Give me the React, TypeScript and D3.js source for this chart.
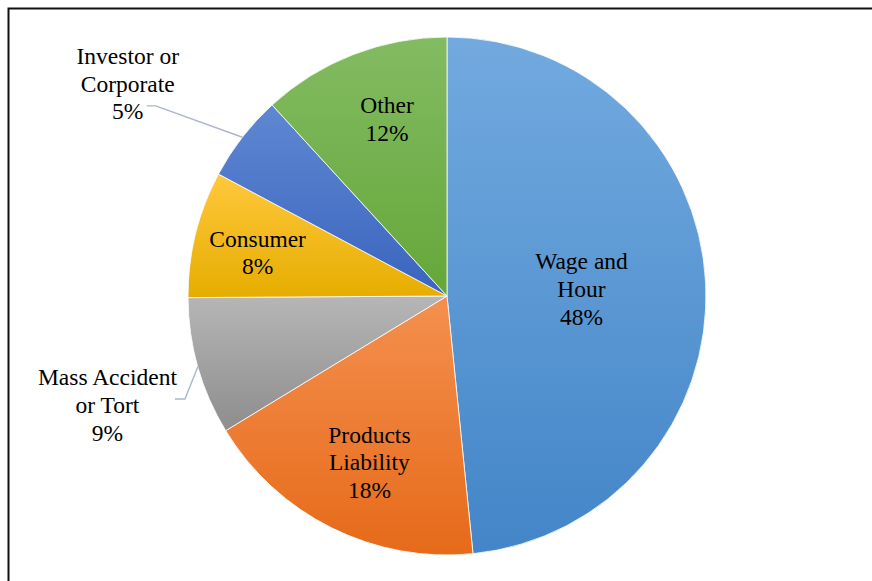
import { useEffect, useRef } from 'react'
import * as d3 from 'd3'

// Case categories (clockwise from 12 o'clock) and their shares in percent
const categories = ['Wage and Hour', 'Products Liability', 'Mass Accident or Tort', 'Consumer', 'Investor or Corporate', 'Other']
const labelLines = [
  ['Wage and', 'Hour'],
  ['Products', 'Liability'],
  ['Mass Accident', 'or Tort'],
  ['Consumer'],
  ['Investor or', 'Corporate'],
  ['Other'],
]
const shares = [48.4, 17.9, 8.6, 7.9, 5.4, 11.8]

// Office-like gradient fills: [top, bottom]
const palette: [string, string][] = [
  ['#72aadf', '#4385c8'],
  ['#f4904f', '#e66a19'],
  ['#b6b6b6', '#8d8d8d'],
  ['#ffc83c', '#e6ad00'],
  ['#5f88d2', '#3a64be'],
  ['#83bb62', '#65a739'],
]

const W = 872
const H = 581
const cx = 447
const cy = 296
const R = 259
const fontSize = 23.5
const lineH = 27.8
const serif = "'Liberation Serif', 'Times New Roman', Times, 'DejaVu Serif', serif"

// label placement: inside = centroid at fraction of radius; outside = polar text centre + leader offsets
type Place =
  | { kind: 'in'; r: number; da?: number }
  | { kind: 'out'; r: number; angle: number; lead: [number, number, number] }

const placement: Place[] = [
  { kind: 'in', r: 0.52 },
  { kind: 'in', r: 0.71, da: -1.5 },
  { kind: 'out', r: 1.377, angle: 252.2, lead: [67.5, 77.5, -6] },
  { kind: 'in', r: 0.75, da: -1 },
  { kind: 'out', r: 1.48, angle: 303.6, lead: [19, 28, 22] },
  { kind: 'in', r: 0.72, da: 2.5 },
]

export default function App() {
  const svgRef = useRef<SVGSVGElement>(null)

  useEffect(() => {
    if (!svgRef.current) return
    const svg = d3.select(svgRef.current)
    svg.selectAll('*').remove()

    const defs = svg.append('defs')
    palette.forEach(([top, bottom], i) => {
      const grad = defs
        .append('linearGradient')
        .attr('id', `slice-grad-${i}`)
        .attr('x1', '0%')
        .attr('y1', '0%')
        .attr('x2', '0%')
        .attr('y2', '100%')
      grad.append('stop').attr('offset', '0%').attr('stop-color', top)
      grad.append('stop').attr('offset', '100%').attr('stop-color', bottom)
    })

    // outer frame (only top/left edges fall inside the picture)
    svg
      .append('rect')
      .attr('x', 8.5)
      .attr('y', 8.5)
      .attr('width', 1000)
      .attr('height', 1000)
      .attr('fill', 'none')
      .attr('stroke', '#111')
      .attr('stroke-width', 2)

    const pie = d3
      .pie<number>()
      .sort(null)
      .value(d => d)
      .startAngle(0)
      .endAngle(2 * Math.PI)
    const arcs = pie(shares)

    const arc = d3.arc<d3.PieArcDatum<number>>().innerRadius(0).outerRadius(R)

    const g = svg.append('g').attr('transform', `translate(${cx},${cy})`)

    g.selectAll('path.slice')
      .data(arcs)
      .join('path')
      .attr('class', 'slice')
      .attr('d', arc)
      .attr('fill', (_, i) => `url(#slice-grad-${i})`)
      .attr('stroke', '#fff')
      .attr('stroke-width', 0.8)

    const total = d3.sum(shares)
    const polar = (deg: number, r: number): [number, number] => {
      const a = (deg * Math.PI) / 180
      return [r * Math.sin(a), -r * Math.cos(a)]
    }

    arcs.forEach((d, i) => {
      const p = placement[i]
      const mid = (((d.startAngle + d.endAngle) / 2) * 180) / Math.PI
      const lines = [...labelLines[i], `${Math.round((shares[i] / total) * 100)}%`]
      let tx: number
      let ty: number
      if (p.kind === 'in') {
        ;[tx, ty] = polar(mid + (p.da ?? 0), p.r * R)
      } else {
        ;[tx, ty] = polar(p.angle, p.r * R)
        const [ax, ay] = polar(mid, R)
        const [sx, ex, oy] = p.lead
        const pts: [number, number][] = [
          [tx + sx, ty + oy],
          [tx + ex, ty + oy],
          [ax, ay],
        ]
        g.append('path')
          .attr('d', d3.line()(pts))
          .attr('fill', 'none')
          .attr('stroke', '#a9b6cb')
          .attr('stroke-width', 1.4)
      }
      const text = g
        .append('text')
        .attr('text-anchor', 'middle')
        .style('font-family', serif)
        .style('font-size', `${fontSize}px`)
        .attr('fill', '#000')
      const firstBase = ty - ((lines.length - 1) * lineH) / 2 + fontSize * 0.33
      lines.forEach((ln, k) => {
        text
          .append('tspan')
          .attr('x', tx)
          .attr('y', firstBase + k * lineH)
          .text(ln)
      })
    })
  }, [])

  return (
    <svg
      ref={svgRef}
      width={W}
      height={H}
      style={{ position: 'absolute', left: 0, top: 0, display: 'block', background: '#fff' }}
    />
  )
}
